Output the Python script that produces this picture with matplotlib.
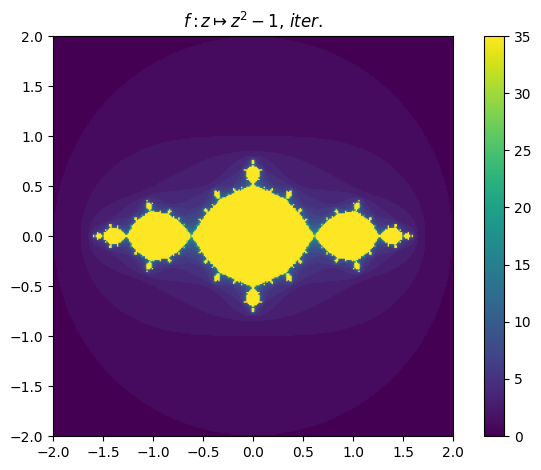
import matplotlib
matplotlib.use('Agg')
import matplotlib.pyplot as plt
import numpy as np

c = -1 + 0j
max_iter = 35
n_points = 300
x_range = [-2, 2]
y_range = [-2, 2]
cbar_ticks = [0, 5, 10, 15, 20, 25, 30, 35]

# Number of iterations each starting point stays inside |z| <= 2
x = np.linspace(x_range[0], x_range[1], n_points)
y = np.linspace(y_range[0], y_range[1], n_points)
z = x[None, :] + 1j * y[:, None]
iters = np.zeros(z.shape, dtype=int)
alive = np.ones(z.shape, dtype=bool)
for i in range(max_iter):
    alive = alive & (np.abs(z) <= 2)
    iters[alive] += 1
    z[alive] = z[alive] ** 2 + c

fig = plt.figure(figsize=(5.41, 4.70), dpi=100)
ax = fig.add_axes([53 / 541, 34 / 470, 400 / 541, 400 / 470])
im = ax.imshow(iters, origin='lower', extent=[-2, 2, -2, 2], cmap='viridis', vmin=0, vmax=max_iter)
ax.set_title(r'$f: z \mapsto z^2 - 1$, $iter.$', fontsize=12)

cax = fig.add_axes([484 / 541, 34 / 470, 20 / 541, 400 / 470])
fig.colorbar(im, cax=cax, ticks=cbar_ticks)

fig.savefig('out.png', dpi=100)
